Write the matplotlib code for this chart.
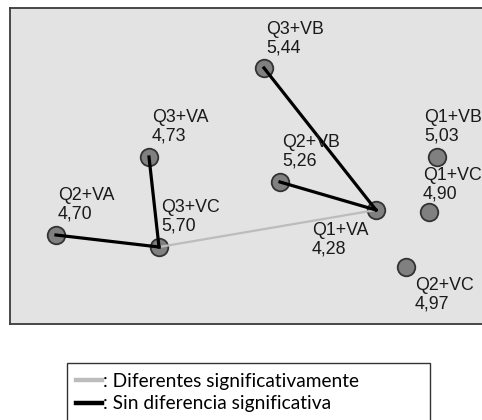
import matplotlib.pyplot as plt
from matplotlib.lines import Line2D
from matplotlib.patches import Rectangle

# node layout (pixels inside the plot frame) and mean scores
nodes = ["Q3+VB", "Q3+VA", "Q2+VB", "Q1+VA", "Q1+VB", "Q1+VC", "Q2+VA", "Q3+VC", "Q2+VC"]
means = ["5,44", "4,73", "5,26", "4,28", "5,03", "4,90", "4,70", "5,70", "4,97"]
node_x = [254, 139, 270, 366, 427, 419, 46, 149, 396]
node_y = [60, 149, 174, 202, 149, 204, 227, 239, 259]

# pairwise comparisons
same_pairs = [("Q3+VB", "Q1+VA"), ("Q2+VB", "Q1+VA"), ("Q3+VA", "Q3+VC"), ("Q2+VA", "Q3+VC")]
diff_pairs = [("Q3+VC", "Q1+VA")]

legend_labels = [": Diferentes significativamente", ": Sin diferencia significativa"]

# label offsets (pixels) from node centre to text top-left
label_off = {"Q3+VB": (2, 47), "Q3+VA": (3, 48), "Q2+VB": (2, 48), "Q1+VA": (-64, -12),
             "Q1+VB": (-13, 48), "Q1+VC": (-6, 45), "Q2+VA": (2, 48), "Q3+VC": (2, 48),
             "Q2+VC": (9, -10)}

W, H = 482, 420
fig = plt.figure(figsize=(W / 100, H / 100), dpi=100)
ax = fig.add_axes([10 / W, (H - 324) / H, 1.0, 316 / H])
ax.set_xlim(0, 482)
ax.set_ylim(316, 0)
ax.set_facecolor("#e3e3e3")
ax.set_xticks([])
ax.set_yticks([])
for s in ax.spines.values():
    s.set_color("#3a3a3a")
    s.set_linewidth(1.3)

pos = {n: (x, y) for n, x, y in zip(nodes, node_x, node_y)}

ax.scatter(node_x, node_y, s=160, c="#808080", edgecolors="#333333", linewidths=1.3, zorder=2)

for a, b in diff_pairs:
    ax.plot([pos[a][0], pos[b][0]], [pos[a][1], pos[b][1]], color="#bcbcbc", lw=1.6, zorder=3)
for a, b in same_pairs:
    ax.plot([pos[a][0], pos[b][0]], [pos[a][1], pos[b][1]], color="black", lw=2.3, zorder=3)

for n, m in zip(nodes, means):
    dx, dy = label_off[n]
    ax.annotate(n + "\n" + m, xy=pos[n], xytext=(dx, dy), textcoords="offset pixels",
                ha="left", va="top", fontsize=12.8, family="Liberation Sans",
                color="#1a1a1a", linespacing=1.08, zorder=4)

# legend box runs off the bottom of the image
fig.patches.append(Rectangle((67 / W, -0.05), (430 - 67) / W, 0.05 + (H - 363) / H,
                             transform=fig.transFigure, facecolor="white",
                             edgecolor="#333333", lw=1.0))

handles = [Line2D([], [], color="#bcbcbc", lw=3.2),
           Line2D([], [], color="black", lw=3.2)]
fig.legend(handles, legend_labels, loc="upper left",
           bbox_to_anchor=(76 / W, 1 - 373 / H), frameon=False,
           prop={"family": "Lato", "size": 13.8}, handlelength=1.35,
           handletextpad=0.05, borderpad=0, labelspacing=0.28, borderaxespad=0)

fig.savefig("out.png", dpi=100)
